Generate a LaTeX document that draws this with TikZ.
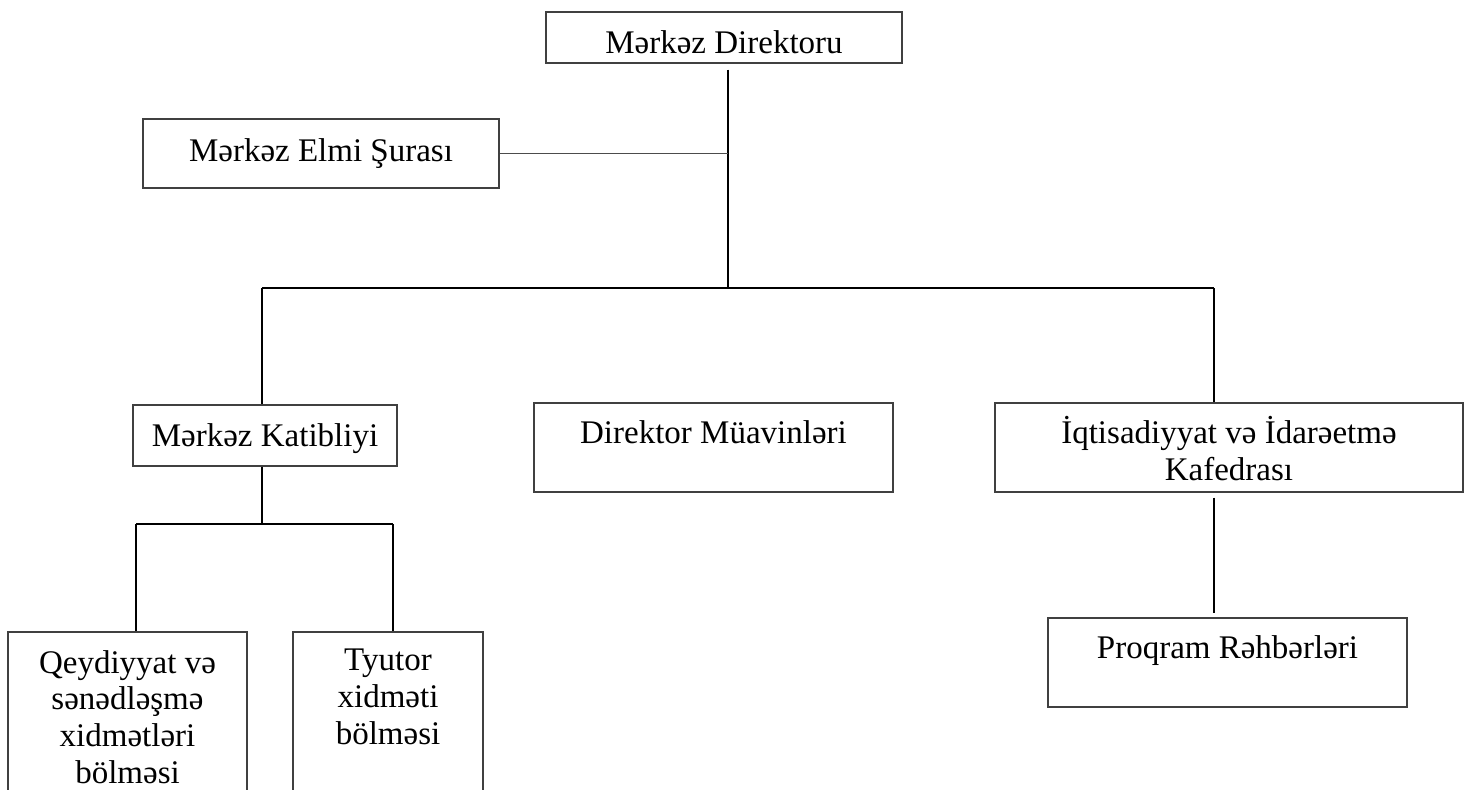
\documentclass[tikz,border=0pt]{standalone}
\usepackage{fontspec}
\setmainfont{Liberation Serif}
\begin{document}
\begin{tikzpicture}[x=0.5pt,y=-0.5pt,
  box/.style={draw=black!75,line width=0.6pt,fill=none,inner sep=0pt,rectangle},
  lbl/.style={anchor=base,inner sep=0pt,align=center,font=\fontsize{16.5}{18.3}\selectfont},
  conn/.style={line width=1pt,black},
  thinconn/.style={line width=0.6pt,black!70}]
\clip (0,0) rectangle (1469,789);
\fill[white] (0,0) rectangle (1469,789);
% boxes
\node[box,minimum width=178pt,minimum height=25.5pt] (dir) at (724,37.5) {};
\node[box,minimum width=178pt,minimum height=34.5pt] (elmi) at (321,153.5) {};
\node[box,minimum width=132pt,minimum height=30.5pt] (kat) at (265,435.5) {};
\node[box,minimum width=179.5pt,minimum height=44.5pt] (muav) at (713.5,447.5) {};
\node[box,minimum width=234pt,minimum height=44.5pt] (iqt) at (1229,447.5) {};
\node[box,minimum width=179.5pt,minimum height=44.5pt] (proq) at (1227.5,662.5) {};
\node[box,minimum width=119.5pt,minimum height=84pt] (qey) at (127.5,716) {};
\node[box,minimum width=95pt,minimum height=84pt] (tyu) at (388,716) {};
% labels (base anchor = baseline of the last line)
\node[lbl] (tdir) at (724,53) {Mərkəz Direktoru};
\node[lbl] (telmi) at (321,161) {Mərkəz Elmi Şurası};
\node[lbl] (tkat) at (265,446) {Mərkəz Katibliyi};
\node[lbl] (tmuav) at (713.5,443) {Direktor Müavinləri};
\node[lbl] (tiqt) at (1229,480) {İqtisadiyyat və İdarəetmə\\Kafedrası};
\node[lbl] (tproq) at (1227.5,658) {Proqram Rəhbərləri};
\node[lbl] (tqey) at (127.5,783) {Qeydiyyat və\\sənədləşmə\\xidmətləri\\bölməsi};
\node[lbl] (ttyu) at (388,744) {Tyutor\\xidməti\\bölməsi};
% junction coordinates
\coordinate (j1) at (728,288);
\coordinate (hl) at (262,288);
\coordinate (hr) at (1214,288);
\coordinate (k1) at (262,524);
\coordinate (kl) at (136,524);
\coordinate (kr) at (393,524);
% connectors
\draw[conn,shorten <=3pt] (dir.south -| j1) -- (j1);
\draw[thinconn] (elmi.east) -- (elmi.east -| j1);
\draw[conn] (hl) -- (hr);
\draw[conn] (hl) -- (kat.north -| hl);
\draw[conn] (hr) -- (iqt.north -| hr);
\draw[conn] (kat.south -| k1) -- (k1);
\draw[conn] (kl) -- (kr);
\draw[conn] (kl) -- (qey.north -| kl);
\draw[conn] (kr) -- (tyu.north -| kr);
\draw[conn,shorten <=2.5pt,shorten >=2pt] (iqt.south -| hr) -- (proq.north -| hr);
\end{tikzpicture}
\end{document}
